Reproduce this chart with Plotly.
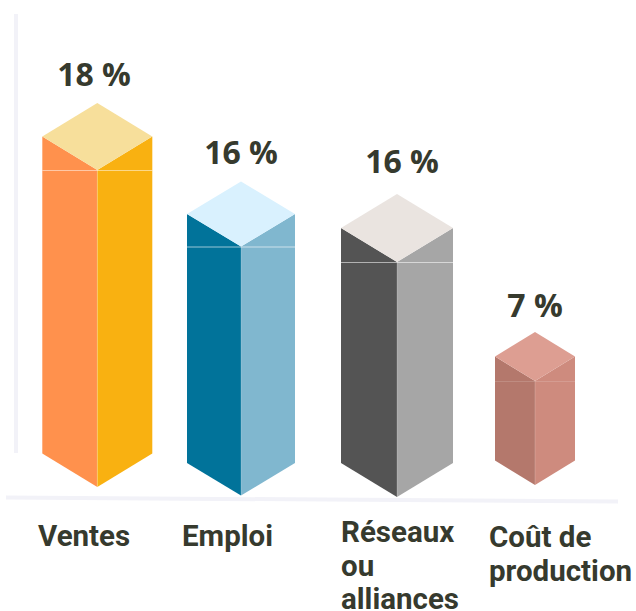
import plotly.graph_objects as go

# ---- data ----
categories = ["Ventes", "Emploi", "Réseaux<br>ou<br>alliances", "Coût de<br>production"]
value_labels = ["18 %", "16 %", "16 %", "7 %"]
values = [18, 16, 16, 7]
# height of the front edge of each column, as drawn (not proportional in the original)
drawn_heights = [317, 249, 235, 104]

# ---- geometry (pixel-like axis units) ----
W, H = 636, 611
centers = [97.3, 241, 397, 535]
half_widths = [55, 54, 56, 40]
bottoms = [487, 495.5, 497, 485]     # front bottom vertex
rises = [33.5, 32.5, 34, 24.5]       # isometric rise of the rhombus
label_y = [78, 156, 165, 309]
label_x = [94, 241, 402, 535]
cat_x = [38, 182, 341, 489]
cat_y = [536, 536, 532, 537]         # vertical centre of the first line
LINE_STEP = 33.5

left_cols = ["#FF914D", "#01739A", "#545454", "#B4786C"]
right_cols = ["#F9B111", "#80B7CF", "#A6A6A6", "#CE8B7E"]
top_cols = ["#F7DF9B", "#D9F1FE", "#EAE4E0", "#DD9E92"]
seam_alpha = [0.5, 0.6, 0.55, 0.15]
TEXT = "#363A2E"
AXIS = "#F2F2F8"

fig = go.Figure()


def poly(xs, ys, color):
    fig.add_trace(go.Scatter(x=xs, y=ys, mode="lines", fill="toself", fillcolor=color,
                             line=dict(width=0, color=color), hoverinfo="skip",
                             showlegend=False))


for i, height in enumerate(drawn_heights):
    c, hw, b, r = centers[i], half_widths[i], bottoms[i], rises[i]
    front_top = b - height
    poly([c - hw, c, c, c - hw, c - hw],
         [front_top - r, front_top, b, b - r, front_top - r], left_cols[i])
    poly([c, c + hw, c + hw, c, c],
         [front_top, front_top - r, b - r, b, front_top], right_cols[i])
    poly([c - hw, c, c + hw, c, c - hw],
         [front_top - r, front_top - 2 * r, front_top - r, front_top, front_top - r], top_cols[i])
    fig.add_trace(go.Scatter(x=[c - hw, c + hw], y=[front_top + 0.5, front_top + 0.5], mode="lines",
                             line=dict(width=1, color=f"rgba(255,255,255,{seam_alpha[i]})"),
                             hoverinfo="skip", showlegend=False))
    fig.add_trace(go.Scatter(x=[c, c], y=[front_top, b], mode="lines",
                             line=dict(width=0.6, color="rgba(255,255,255,0.3)"),
                             hoverinfo="skip", showlegend=False))

fig.add_trace(go.Scatter(x=label_x, y=label_y, mode="text", text=value_labels,
                         textposition="middle center",
                         textfont=dict(family="Open Sans", size=32, color=TEXT, weight="bold"),
                         customdata=values, hoverinfo="skip", showlegend=False))

for x, y, cat in zip(cat_x, cat_y, categories):
    for k, line in enumerate(cat.split("<br>")):
        fig.add_annotation(x=x, y=y + k * LINE_STEP, text=f"<b>{line}</b>", showarrow=False,
                           xref="x", yref="y", xanchor="left", yanchor="middle", align="left",
                           borderpad=0, borderwidth=0,
                           font=dict(family="Roboto", size=29.5, color=TEXT))

shapes = [
    dict(type="line", x0=16, x1=16, y0=14, y1=453, line=dict(color=AXIS, width=4), layer="below"),
    dict(type="line", x0=6, x1=618, y0=497.5, y1=501.5, line=dict(color=AXIS, width=4), layer="below"),
]

fig.update_layout(
    width=W, height=H, margin=dict(l=0, r=0, t=0, b=0),
    paper_bgcolor="white", plot_bgcolor="white", shapes=shapes, showlegend=False,
    xaxis=dict(range=[0, W], visible=False, fixedrange=True),
    yaxis=dict(range=[H, 0], visible=False, fixedrange=True),
)
fig.write_html("out.html", config={"displayModeBar": False},
               post_script="document.body.style.margin='0';document.body.style.overflow='hidden';")
